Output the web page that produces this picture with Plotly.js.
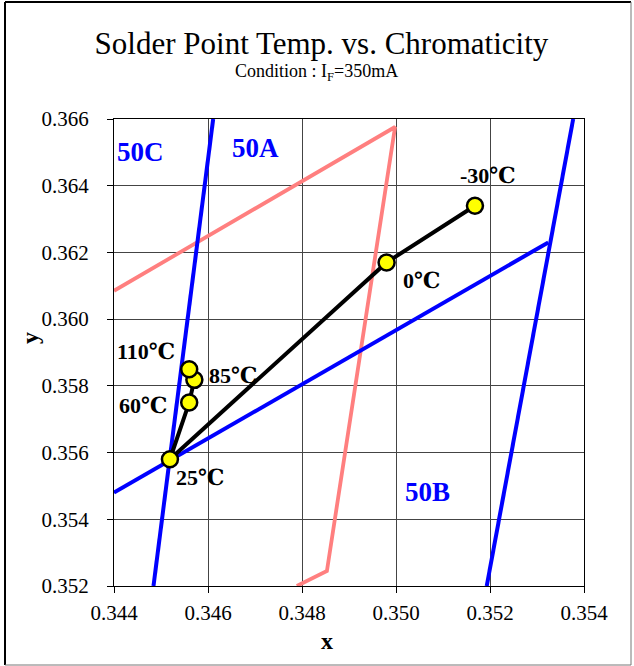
<!DOCTYPE html>
<html>
<head>
<meta charset="utf-8">
<script src="https://cdn.plot.ly/plotly-3.0.1.min.js"></script>
<style>
html,body{margin:0;padding:0;background:#fff;}
#chart{width:634px;height:666px;}
</style>
</head>
<body>
<div id="chart"></div>
<script>
// Temperature series (chromaticity x, y)
const tempLabels = ['-30℃', '0℃', '25℃', '60℃', '85℃', '110℃'];
const tempX = [0.35168, 0.34980, 0.34519, 0.34560, 0.34571, 0.34560];
const tempY = [0.36340, 0.36170, 0.35580, 0.35750, 0.35818, 0.35850];

// Bin boundary lines (blue)
const binLeftX = [0.34484, 0.34611];
const binLeftY = [0.35200, 0.36600];
const binMidX = [0.34400, 0.35324];
const binMidY = [0.35480, 0.36230];
const binRightX = [0.35193, 0.35377];
const binRightY = [0.35200, 0.36600];

// Pink outline
const pinkX = [0.34400, 0.34998, 0.34853, 0.34789];
const pinkY = [0.36085, 0.36576, 0.35245, 0.35200];

// Bin names
const binNames = ['50C', '50A', '50B'];

// Axis ticks
const xTicks = [0.344, 0.346, 0.348, 0.350, 0.352, 0.354];
const yTicks = [0.352, 0.354, 0.356, 0.358, 0.360, 0.362, 0.364, 0.366];

const serif = '"Liberation Serif", "Times New Roman", serif';
const labelFont = '"Liberation Serif", "DejaVu Serif", serif';
const BLUE = '#0000FF';
const PINK = '#FF7F7F';

const traces = [
  {x: pinkX, y: pinkY, mode: 'lines', line: {color: PINK, width: 3.8}, hoverinfo: 'skip'},
  {x: binLeftX, y: binLeftY, mode: 'lines', line: {color: BLUE, width: 4}, hoverinfo: 'skip'},
  {x: binMidX, y: binMidY, mode: 'lines', line: {color: BLUE, width: 4}, hoverinfo: 'skip'},
  {x: binRightX, y: binRightY, mode: 'lines', line: {color: BLUE, width: 4}, hoverinfo: 'skip'},
  {x: tempX, y: tempY, text: tempLabels, mode: 'lines+markers',
   line: {color: '#000000', width: 4},
   marker: {color: '#FFFF00', size: 16, line: {color: '#000000', width: 2.5}}}
];

// label positions (data coords) for temperatures and bins
const tempLabelPos = [[0.35195, 0.36430], [0.35054, 0.36115], [0.34584, 0.35526],
                      [0.34461, 0.35742], [0.34653, 0.35830], [0.34469, 0.35902]];
const binLabelPos = [[0.34457, 0.36502], [0.34701, 0.36514], [0.35068, 0.35481]];

const annotations = [];
tempLabels.forEach((t, i) => annotations.push({
  x: tempLabelPos[i][0], y: tempLabelPos[i][1], xref: 'x', yref: 'y', text: '<b>' + t + '</b>',
  xanchor: 'center', yanchor: 'middle',
  showarrow: false, font: {family: labelFont, size: 22, color: '#000'}
}));
binNames.forEach((t, i) => annotations.push({
  x: binLabelPos[i][0], y: binLabelPos[i][1], xref: 'x', yref: 'y', text: '<b>' + t + '</b>',
  xanchor: 'center', yanchor: 'middle',
  showarrow: false, font: {family: serif, size: 27, color: BLUE}
}));
annotations.push({
  xref: 'paper', yref: 'paper', x: (316 - 114) / 470, y: 1 + (119 - 73) / 467,
  xanchor: 'center', yanchor: 'middle', text: 'Condition : I<sub>F</sub>=350mA',
  showarrow: false, font: {family: serif, size: 18, color: '#000'}
});
annotations.push({
  xref: 'paper', yref: 'paper', x: (327 - 114) / 470, y: -(641 - 586) / 467, text: '<b>x</b>',
  xanchor: 'center', yanchor: 'middle',
  showarrow: false, font: {family: serif, size: 24, color: '#000'}
});
annotations.push({
  xref: 'paper', yref: 'paper', x: (30 - 114) / 470, y: (586 - 338) / 467, text: '<b>y</b>',
  xanchor: 'center', yanchor: 'middle',
  textangle: -90, showarrow: false, font: {family: serif, size: 24, color: '#000'}
});

const layout = {
  width: 634, height: 666,
  margin: {l: 114, r: 50, t: 119, b: 80},
  paper_bgcolor: '#fff', plot_bgcolor: '#fff',
  showlegend: false,
  font: {family: serif, color: '#000'},
  title: {text: 'Solder Point Temp. vs. Chromaticity', font: {family: serif, size: 31, color: '#000'},
          xref: 'container', x: 0.507, yref: 'container', y: 0.935, yanchor: 'middle', xanchor: 'center'},
  xaxis: {range: [0.344, 0.354], tickvals: xTicks, ticktext: xTicks.map(v => v.toFixed(3)),
          showgrid: true, gridcolor: '#444', gridwidth: 1, zeroline: false,
          showline: true, linecolor: '#000', linewidth: 1, mirror: true,
          ticks: 'outside', ticklen: 6, tickcolor: '#000', tickfont: {family: serif, size: 21},
          ticklabelstandoff: 2},
  yaxis: {range: [0.352, 0.366], tickvals: yTicks, ticktext: yTicks.map(v => v.toFixed(3)),
          showgrid: true, gridcolor: '#444', gridwidth: 1, zeroline: false,
          showline: true, linecolor: '#000', linewidth: 1, mirror: true,
          ticks: 'outside', ticklen: 6, tickcolor: '#000', tickfont: {family: serif, size: 21},
          ticklabelstandoff: 14},
  annotations: annotations,
  shapes: [
    {type: 'line', xref: 'paper', yref: 'paper', x0: (5 - 114) / 470, x1: (5 - 114) / 470,
     y0: -(665 - 586) / 467, y1: 1 + (119 - 2) / 467, line: {color: '#000', width: 2}},
    {type: 'line', xref: 'paper', yref: 'paper', x0: (5 - 114) / 470, x1: (631 - 114) / 470,
     y0: 1 + (119 - 2) / 467, y1: 1 + (119 - 2) / 467, line: {color: '#000', width: 2}},
    {type: 'line', xref: 'paper', yref: 'paper', x0: (631 - 114) / 470, x1: (631 - 114) / 470,
     y0: -(665 - 586) / 467, y1: 1 + (119 - 2) / 467, line: {color: '#777', width: 1}},
    {type: 'line', xref: 'paper', yref: 'paper', x0: (5 - 114) / 470, x1: (631 - 114) / 470,
     y0: -(665 - 586) / 467, y1: -(665 - 586) / 467, line: {color: '#777', width: 1}}
  ]
};

Plotly.newPlot('chart', traces, layout, {displayModeBar: false, staticPlot: true});
</script>
</body>
</html>
